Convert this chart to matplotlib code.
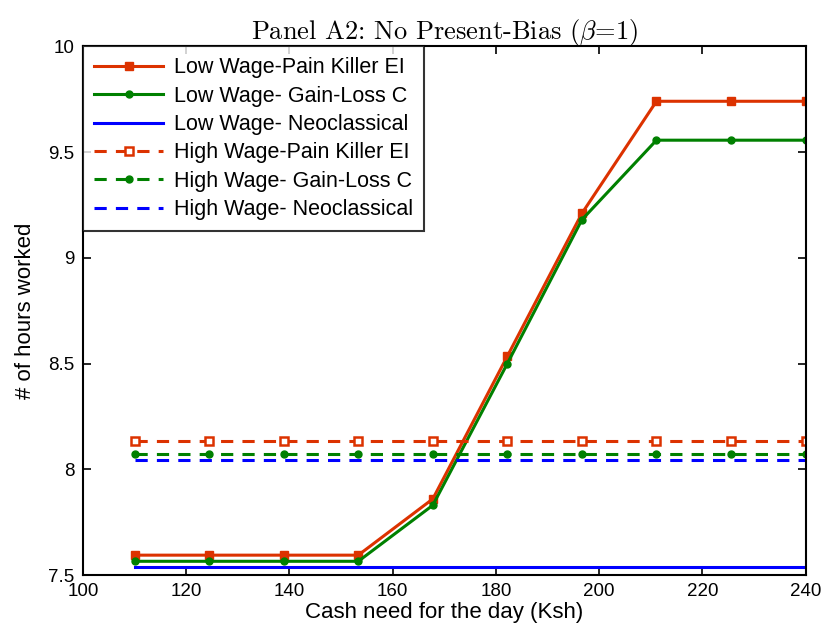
import numpy as np
import matplotlib
matplotlib.use("Agg")
import matplotlib.pyplot as plt
from matplotlib.ticker import FormatStrFormatter, MultipleLocator

plt.rcParams['font.family'] = ['Liberation Sans', 'DejaVu Sans']
plt.rcParams['mathtext.fontset'] = 'cm'

# data
cash = np.linspace(110, 240, 10)
low_pk = [7.594, 7.594, 7.594, 7.594, 7.86, 8.535, 9.21, 9.74, 9.74, 9.74]
low_gl = [7.565, 7.565, 7.565, 7.565, 7.83, 8.50, 9.18, 9.556, 9.556, 9.556]
low_neo = [7.54] * 10
high_pk = [8.133] * 10
high_gl = [8.072] * 10
high_neo = [8.043] * 10

red = "#dc3200"
green = "#008000"
blue = "#0000ff"

fig = plt.figure(figsize=(8.22, 6.34), dpi=100)
ax = fig.add_axes([0.101, 0.093, 0.879, 0.834])

lw = 2.2
ax.plot(cash, low_pk, color=red, lw=lw, marker="s", ms=6, mfc=red, mec=red,
        label="Low Wage-Pain Killer EI")
ax.plot(cash, low_gl, color=green, lw=lw, marker="o", ms=5, mfc=green, mec=green,
        label="Low Wage- Gain-Loss C")
ax.plot(cash, low_neo, color=blue, lw=lw, label="Low Wage- Neoclassical")
ax.plot(cash, high_pk, color=red, lw=lw, ls=(0, (4, 3)), marker="s", ms=6,
        mfc="white", mec=red, mew=1.8, label="High Wage-Pain Killer EI")
ax.plot(cash, high_gl, color=green, lw=lw, ls=(0, (4, 3)), marker="o", ms=5,
        mfc=green, mec=green, label="High Wage- Gain-Loss C")
ax.plot(cash, high_neo, color=blue, lw=lw, ls=(0, (4, 3)),
        label="High Wage- Neoclassical")

ax.set_xlim(100, 240)
ax.set_ylim(7.5, 10)
ax.xaxis.set_major_locator(MultipleLocator(20))
ax.yaxis.set_major_locator(MultipleLocator(0.5))
ax.yaxis.set_major_formatter(FormatStrFormatter("%g"))
ax.tick_params(direction="in", top=True, right=True, labelsize=13.5, length=6,
               width=1.2, pad=6)
for s in ax.spines.values():
    s.set_linewidth(1.5)

ax.set_xlabel("Cash need for the day (Ksh)", fontsize=16, labelpad=1)
ax.set_ylabel("# of hours worked", fontsize=16, labelpad=9)
ax.set_title(r"Panel A2: No Present-Bias ($\beta$=1)", fontsize=19,
             fontname="cmr10", pad=5)

leg = ax.legend(loc="upper left", fontsize=15.5, handlelength=3.2, frameon=True,
                fancybox=False, borderaxespad=0, labelspacing=0.34,
                borderpad=0.52, handletextpad=0.5)
leg.get_frame().set_edgecolor("black")
leg.get_frame().set_linewidth(1.5)

fig.savefig("out.png", dpi=100)
